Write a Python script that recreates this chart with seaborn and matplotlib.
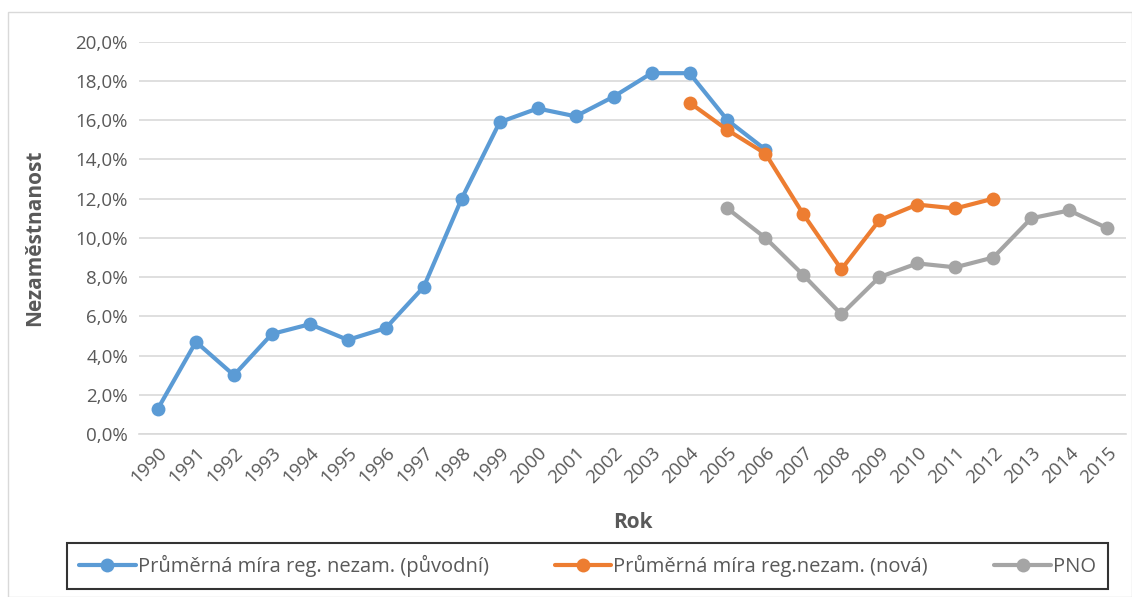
import pandas as pd
import matplotlib.pyplot as plt
import seaborn as sns
from matplotlib.ticker import FuncFormatter
from matplotlib.patches import Rectangle

# data (values in %)
years_puvodni = list(range(1990, 2007))
puvodni = [1.3, 4.7, 3.0, 5.1, 5.6, 4.8, 5.4, 7.5, 12.0, 15.9, 16.6, 16.2, 17.2, 18.4, 18.4, 16.0, 14.5]

years_nova = list(range(2004, 2013))
nova = [16.9, 15.5, 14.3, 11.2, 8.4, 10.9, 11.7, 11.5, 12.0]

years_pno = list(range(2005, 2016))
pno = [11.5, 10.0, 8.1, 6.1, 8.0, 8.7, 8.5, 9.0, 11.0, 11.4, 10.5]

series_names = [
    "Průměrná míra reg. nezam. (původní)",
    "Průměrná míra reg.nezam. (nová)",
    "PNO",
]
colors = ["#5B9BD5", "#ED7D31", "#A5A5A5"]
all_years = list(range(1990, 2016))

df = pd.concat([
    pd.DataFrame({"Rok": years_puvodni, "value": puvodni, "series": series_names[0]}),
    pd.DataFrame({"Rok": years_nova, "value": nova, "series": series_names[1]}),
    pd.DataFrame({"Rok": years_pno, "value": pno, "series": series_names[2]}),
])

sns.set_style("white")
plt.rcParams["font.family"] = ["Open Sans", "DejaVu Sans"]

fig = plt.figure(figsize=(11.32, 5.97), dpi=100)
ax = fig.add_axes([0.1228, 0.273, 0.872, 0.657])

sns.lineplot(data=df, x="Rok", y="value", hue="series", hue_order=series_names,
             palette=colors, marker="o", markersize=10, markeredgewidth=0,
             linewidth=3, ax=ax)

ax.set_xlim(1989.5, 2015.5)
ax.set_ylim(0, 20)
ax.set_yticks([i * 2 for i in range(11)])
ax.yaxis.set_major_formatter(FuncFormatter(lambda v, p: f"{v:.1f}%".replace(".", ",")))
ax.set_xticks(all_years)
ax.set_xticklabels([str(y) for y in all_years], rotation=45, ha="right",
                   rotation_mode="anchor")
ax.tick_params(axis="both", length=0, labelsize=13.5, labelcolor="#595959")
ax.tick_params(axis="x", pad=7)
ax.tick_params(axis="y", pad=8)

ax.grid(axis="y", color="#D9D9D9", linewidth=1.2)
ax.set_axisbelow(True)
for side in ["top", "right", "left"]:
    ax.spines[side].set_visible(False)
ax.spines["bottom"].set_color("#D9D9D9")
ax.spines["bottom"].set_linewidth(1.2)

ax.set_xlabel("Rok", fontsize=15, fontweight="bold", color="#595959", labelpad=18)
ax.set_ylabel("Nezaměstnanost", fontsize=15, fontweight="bold", color="#595959", labelpad=22)

handles, labels = ax.get_legend_handles_labels()
ax.get_legend().remove()
leg = fig.legend(handles, labels, loc="center", bbox_to_anchor=(0.519, 0.0515),
                 ncol=3, frameon=True, fancybox=False, fontsize=14.5,
                 handlelength=2.8, handletextpad=0.1, columnspacing=3.3,
                 borderpad=0.6, labelcolor="#595959")
leg.get_frame().set_edgecolor("black")
leg.get_frame().set_linewidth(1.5)

# light outer chart border
fig.patches.append(Rectangle((8 / 1132, 0), 1 - 8 / 1132, 1 - 12 / 597,
                             transform=fig.transFigure, fill=False,
                             edgecolor="#D9D9D9", linewidth=1))

fig.savefig("out.png", dpi=100)
plt.close(fig)
